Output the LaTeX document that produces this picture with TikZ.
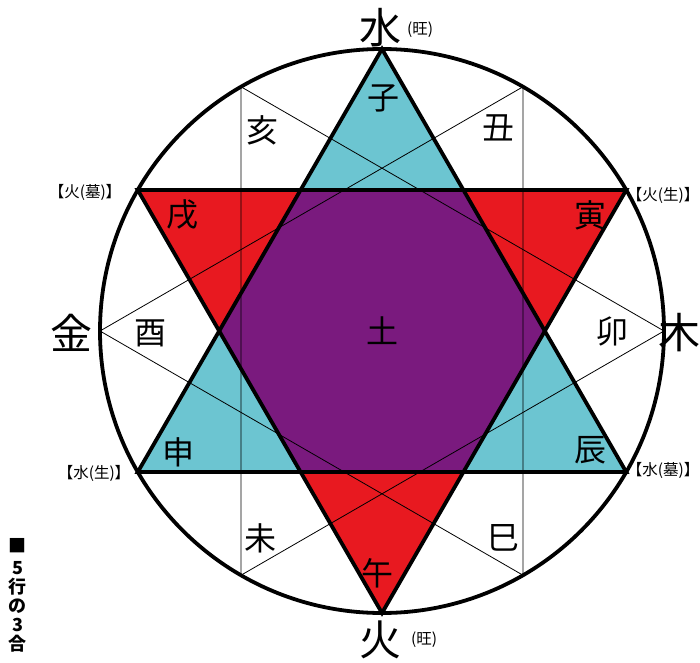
\documentclass[tikz,border=0pt]{standalone}
\usepackage{fontspec}
\setmainfont{Noto Sans CJK JP}
\usetikzlibrary{positioning}
\definecolor{waterblue}{RGB}{108,197,209}
\definecolor{firered}{RGB}{232,25,32}
\definecolor{earthpurple}{RGB}{122,26,126}

\begin{document}
\begin{tikzpicture}[x=1pt,y=1pt,
  branch/.style={font=\fontsize{32}{32}\selectfont, inner sep=0pt},
  element/.style={font=\fontsize{42}{42}\selectfont, inner sep=0pt},
  phase/.style={font=\fontsize{15.5}{15.5}\selectfont, inner sep=0pt},
  thinline/.style={line width=0.8pt},
  thickline/.style={line width=3.8pt, line join=miter}]
\useasboundingbox (0,0) rectangle (700,662);
\coordinate (c) at (382,331);
\foreach \a in {0,30,...,330} \path (c) ++(\a:282) coordinate (p\a);
\foreach \a in {0,60,...,300} \path (c) ++(\a:162.8) coordinate (h\a);
% coloured triangles and the inner hexagon
\fill[waterblue] (p90) -- (p210) -- (p330) -- cycle;
\fill[firered] (p270) -- (p150) -- (p30) -- cycle;
\fill[earthpurple] (h0) -- (h60) -- (h120) -- (h180) -- (h240) -- (h300) -- cycle;
% thin star
\draw[thinline] (p0) -- (p120) -- (p240) -- cycle;
\draw[thinline] (p180) -- (p60) -- (p300) -- cycle;
% thick star and circle
\draw[thickline] (p90) -- (p210) -- (p330) -- cycle;
\draw[thickline] (p270) -- (p150) -- (p30) -- cycle;
\draw[line width=3.8pt] (c) circle (282);
% twelve branches
\node[branch] (zi) at (383,564) {子};
\node[branch] (chou) at (498,534) {丑};
\node[branch] (yin) at (590,447) {寅};
\node[branch] (mao) at (612,331) {卯};
\node[branch] (chen) at (590,212) {辰};
\node[branch] (si) at (503,124) {巳};
\node[branch] (wu) at (377,89) {午};
\node[branch] (wei) at (260,124) {未};
\node[branch] (shen) at (178,210) {申};
\node[branch] (you) at (150,329) {酉};
\node[branch] (xu) at (182,447) {戌};
\node[branch] (hai) at (262,532) {亥};
\node[branch] (tu) at (382,331) {土};
% elements
\node[element] (water) at (380,634) {水};
\node[phase] (waterwang) at (420,632) {(旺)};
\node[element] (fire) at (380,22) {火};
\node[phase] (firewang) at (424,22) {(旺)};
\node[element] (metal) at (71,329) {金};
\node[element] (wood) at (679,329) {木};
\node[phase] (firetomb) at (85,470) {【火(墓)】};
\node[phase] (firebirth) at (663,467) {【火(生)】};
\node[phase] (waterbirth) at (94,189) {【水(生)】};
\node[phase] (watertomb) at (663,192) {【水(墓)】};
% caption
\node[anchor=north, align=center, inner sep=0pt,
      font=\fontsize{18}{19}\selectfont\bfseries] (caption) at (18,124)
      {■\\[3pt]5\\行\\の\\3\\合};
\end{tikzpicture}
\end{document}
